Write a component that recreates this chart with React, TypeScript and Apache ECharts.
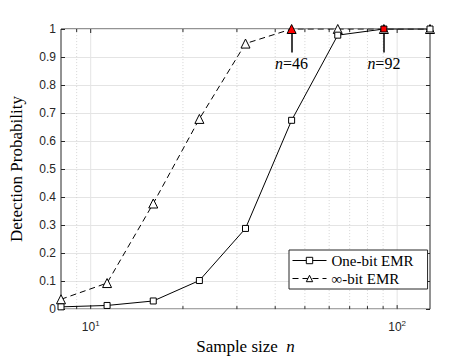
import React, { useEffect, useRef } from "react";
import * as echarts from "echarts";

const sampleSizes = [8, 11.31, 16, 22.63, 32, 45.25, 64, 90.51, 128];
const oneBit = [0.008, 0.013, 0.029, 0.102, 0.288, 0.674, 0.978, 1.0, 1.0];
const infBit = [0.035, 0.093, 0.377, 0.679, 0.948, 1.0, 1.0, 1.0, 1.0];
const majorX = [10, 100];
const minorX = [9, 20, 30, 40, 50, 60, 70, 80, 90];
const yTicks = [0, 0.1, 0.2, 0.3, 0.4, 0.5, 0.6, 0.7, 0.8, 0.9, 1];
const annotations = [
  { x: 45.25, label: "46" },
  { x: 90.51, label: "92" },
];

const SERIF = "'Liberation Serif', 'Times New Roman', serif";
const SANS = "'Liberation Sans', Arial, sans-serif";
const AX = "#262626";

export default function App() {
  const ref = useRef<HTMLDivElement>(null);
  useEffect(() => {
    if (!ref.current) return;
    const chart = echarts.init(ref.current, null, { renderer: "svg" });

    const gridData = [
      ...majorX.map((v) => [v, 0, 1]),
      ...minorX.map((v) => [v, 0, 0]),
    ];

    const option: any = {
      animation: false,
      backgroundColor: "#fff",
      grid: {
        left: 58,
        right: 41,
        top: 29,
        bottom: 44,
        show: true,
        borderColor: AX,
        borderWidth: 1,
        backgroundColor: "transparent",
      },
      xAxis: {
        type: "log",
        logBase: 10,
        min: 8,
        max: 128,
        axisLine: { show: false },
        axisTick: { show: false },
        splitLine: { show: false },
        axisLabel: {
          customValues: majorX,
          margin: 10,
          formatter: (v: number) => {
            const e = Math.round(Math.log10(v));
            return `{b|10}{s|${e}}`;
          },
          rich: {
            b: { fontFamily: SANS, fontSize: 12, color: AX },
            s: { fontFamily: SANS, fontSize: 8, color: AX, padding: [0, 0, 8, 0] },
          },
        },
        name: "{t|Sample size  }{i|n}",
        nameLocation: "middle",
        nameGap: 27,
        nameTextStyle: {
          rich: {
            t: { fontFamily: SERIF, fontSize: 17, color: "#000" },
            i: { fontFamily: SERIF, fontSize: 17, fontStyle: "italic", color: "#000" },
          },
        },
      },
      yAxis: [
        {
          type: "value",
          min: 0,
          max: 1,
          interval: 0.1,
          axisLine: { show: false },
          axisTick: { show: true, inside: true, length: 4, lineStyle: { color: AX } },
          splitLine: { show: true, lineStyle: { color: "#e4e4e4", width: 1 } },
          axisLabel: {
            fontFamily: SANS,
            fontSize: 12,
            color: AX,
            margin: 5,
            formatter: (v: number) => {
              const r = Math.round(v * 10) / 10;
              return yTicks.includes(r) ? String(r) : "";
            },
          },
          name: "Detection Probability",
          nameLocation: "middle",
          nameGap: 36,
          nameTextStyle: { fontFamily: SERIF, fontSize: 17, color: "#000" },
        },
        {
          type: "value",
          min: 0,
          max: 1,
          interval: 0.1,
          position: "right",
          axisLine: { show: false },
          axisTick: { show: true, inside: true, length: 4, lineStyle: { color: AX } },
          splitLine: { show: false },
          axisLabel: { show: false },
        },
      ],
      legend: {
        orient: "vertical",
        left: 289,
        top: 250,
        data: ["One-bit EMR", "∞-bit EMR"],
        itemWidth: 34,
        itemHeight: 8,
        itemGap: 3,
        padding: [3, 14, 3, 3],
        borderColor: AX,
        borderWidth: 1,
        backgroundColor: "#fff",
        lineStyle: { width: 1 },
        itemStyle: { borderWidth: 1 },
        textStyle: { fontFamily: SERIF, fontSize: 15, color: "#000" },
      },
      series: [
        {
          type: "custom",
          silent: true,
          z: 1,
          data: gridData,
          encode: { x: 0, y: 1 },
          renderItem: (params: any, api: any) => {
            const x = api.value(0);
            const major = api.value(2) === 1;
            const b = api.coord([x, 0]);
            const t = api.coord([x, 1]);
            const tl = major ? 4 : 3;
            return {
              type: "group",
              children: [
                {
                  type: "line",
                  shape: { x1: b[0], y1: b[1], x2: t[0], y2: t[1] },
                  style: major
                    ? { stroke: "#e4e4e4", lineWidth: 1 }
                    : { stroke: "#d4d4d4", lineWidth: 1, lineDash: [1, 2] },
                },
                {
                  type: "line",
                  shape: { x1: b[0], y1: b[1], x2: b[0], y2: b[1] - tl },
                  style: { stroke: AX, lineWidth: 1 },
                },
                {
                  type: "line",
                  shape: { x1: t[0], y1: t[1], x2: t[0], y2: t[1] + tl },
                  style: { stroke: AX, lineWidth: 1 },
                },
              ],
            };
          },
        },
        {
          name: "∞-bit EMR",
          type: "line",
          z: 3,
          data: sampleSizes.map((x, i) => {
            const item: any = { value: [x, infBit[i]] };
            if (x === 45.25) item.itemStyle = { color: "#ff0000", borderColor: "#000" };
            return item;
          }),
          symbol: "triangle",
          symbolSize: 9,
          showAllSymbol: true,
          lineStyle: { color: "#000", width: 1, type: [6, 4] },
          itemStyle: { color: "#fff", borderColor: "#000", borderWidth: 1 },
        },
        {
          name: "One-bit EMR",
          type: "line",
          z: 4,
          data: sampleSizes.map((x, i) => {
            const item: any = { value: [x, oneBit[i]] };
            if (x === 90.51) item.itemStyle = { color: "#ff0000", borderColor: "#000" };
            return item;
          }),
          symbol: "rect",
          symbolSize: 6,
          showAllSymbol: true,
          lineStyle: { color: "#000", width: 1 },
          itemStyle: { color: "#fff", borderColor: "#000", borderWidth: 1 },
          markLine: {
            silent: true,
            symbol: ["none", "arrow"],
            symbolSize: [0, 10],
            lineStyle: { color: "#000", width: 1.5, type: "solid" },
            label: {
              show: true,
              position: "start",
              distance: 3,
              formatter: (p: any) => `{i|n}{t|=${p.name}}`,
              rich: {
                i: { fontFamily: SERIF, fontSize: 16, fontStyle: "italic", color: "#000" },
                t: { fontFamily: SERIF, fontSize: 16, color: "#000" },
              },
            },
            data: annotations.map((a) => [
              { coord: [a.x, 0.916], name: a.label },
              { coord: [a.x, 0.982] },
            ]),
          },
        },
      ],
    };
    chart.setOption(option);
    return () => chart.dispose();
  }, []);
  return (
    <div
      ref={ref}
      style={{ position: "absolute", left: 0, top: 0, width: 471, height: 360 }}
    />
  );
}
